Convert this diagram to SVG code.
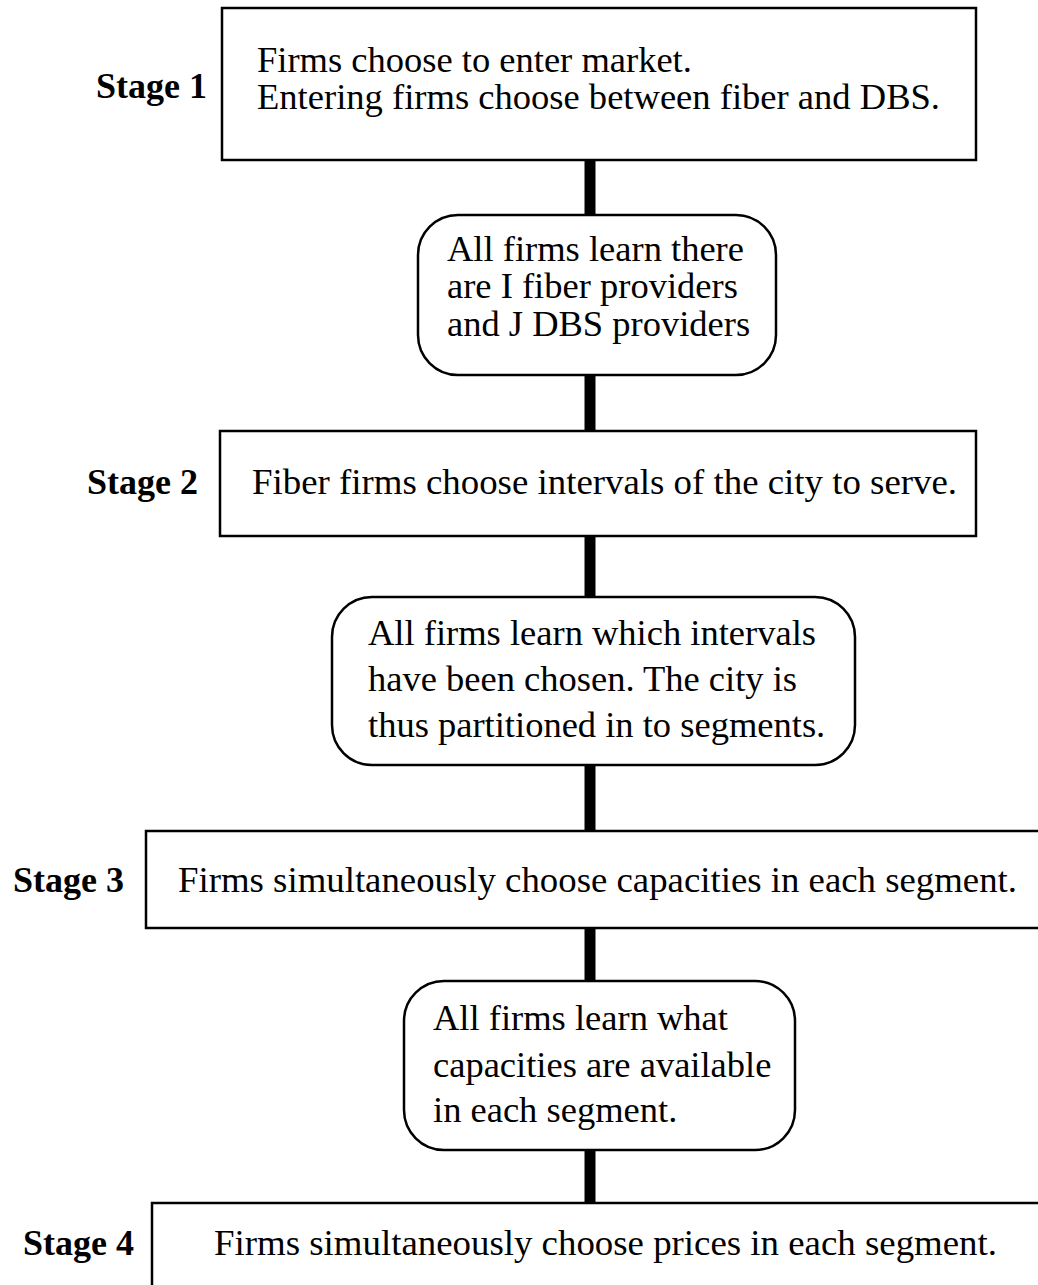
<svg xmlns="http://www.w3.org/2000/svg" width="1038" height="1285" viewBox="0 0 1038 1285">
<style>
.box{fill:#fff;stroke:#000;stroke-width:2.5}
.t{font-family:"Liberation Serif","Times New Roman",serif;font-size:36.5px;fill:#000}
.lbl{font-family:"Liberation Serif","Times New Roman",serif;font-size:36px;font-weight:bold;fill:#000}
.conn{stroke:#000;stroke-width:11;fill:none}
</style>
<rect width="1038" height="1285" fill="#fff"/>
<g id="connectors">
<line class="conn" x1="590" y1="160" x2="590" y2="216"/>
<line class="conn" x1="590" y1="375" x2="590" y2="431"/>
<line class="conn" x1="590" y1="536" x2="590" y2="597"/>
<line class="conn" x1="590" y1="765" x2="590" y2="831"/>
<line class="conn" x1="590" y1="928" x2="590" y2="981"/>
<line class="conn" x1="590" y1="1150" x2="590" y2="1203"/>
</g>
<g id="stage1">
<text class="lbl" x="96" y="98">Stage 1</text>
<rect class="box" x="222" y="8" width="754" height="152"/>
<text class="t" x="257" y="72">Firms choose to enter market.</text>
<text class="t" x="257" y="109" textLength="683" lengthAdjust="spacingAndGlyphs">Entering firms choose between fiber and DBS.</text>
</g>
<g id="info1">
<rect class="box" x="418" y="215" width="358" height="160" rx="40" ry="40"/>
<text class="t" x="447" y="261">All firms learn there</text>
<text class="t" x="447" y="298">are I fiber providers</text>
<text class="t" x="447" y="336">and J DBS providers</text>
</g>
<g id="stage2">
<text class="lbl" x="87" y="494">Stage 2</text>
<rect class="box" x="220" y="431" width="756" height="105"/>
<text class="t" x="252" y="494" textLength="705" lengthAdjust="spacingAndGlyphs">Fiber firms choose intervals of the city to serve.</text>
</g>
<g id="info2">
<rect class="box" x="332" y="597" width="523" height="168" rx="40" ry="40"/>
<text class="t" x="368" y="645">All firms learn which intervals</text>
<text class="t" x="368" y="691">have been chosen. The city is</text>
<text class="t" x="368" y="737">thus partitioned in to segments.</text>
</g>
<g id="stage3">
<text class="lbl" x="13" y="892">Stage 3</text>
<rect class="box" x="146" y="831" width="910" height="97"/>
<text class="t" x="178" y="892" textLength="839" lengthAdjust="spacingAndGlyphs">Firms simultaneously choose capacities in each segment.</text>
</g>
<g id="info3">
<rect class="box" x="404" y="981" width="391" height="169" rx="40" ry="40"/>
<text class="t" x="433" y="1030">All firms learn what</text>
<text class="t" x="433" y="1077">capacities are available</text>
<text class="t" x="433" y="1122">in each segment.</text>
</g>
<g id="stage4">
<text class="lbl" x="23" y="1255">Stage 4</text>
<rect class="box" x="152" y="1203" width="910" height="110"/>
<text class="t" x="214" y="1255" textLength="783" lengthAdjust="spacingAndGlyphs">Firms simultaneously choose prices in each segment.</text>
</g>
</svg>
